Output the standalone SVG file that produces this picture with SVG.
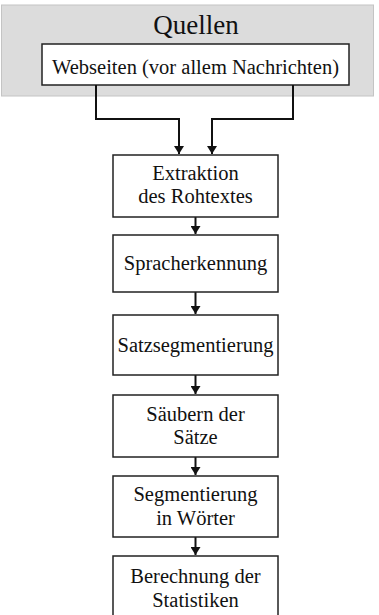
<svg xmlns="http://www.w3.org/2000/svg" width="379" height="615" viewBox="0 0 379 615">
<defs>
<marker id="arr" viewBox="0 0 8 10" refX="8" refY="5" markerWidth="8" markerHeight="10" markerUnits="userSpaceOnUse" orient="auto">
<path d="M0,0 L8,5 L0,10 Z" fill="#111"/>
</marker>
<style>
.box{fill:#fff;stroke:#222;stroke-width:1.5}
.t{font-family:"Liberation Serif","Times New Roman",serif;font-size:20.5px;fill:#111;text-anchor:middle}
.c{fill:none;stroke:#111;stroke-width:2}
</style>
</defs>
<g id="quellen">
<rect x="1.5" y="5" width="372" height="91" fill="#dcdcdc" stroke="#c4c4c4" stroke-width="1"/>
<text x="196" y="34" class="t" style="font-size:27px">Quellen</text>
</g>
<g id="webseiten">
<rect class="box" x="42" y="44" width="307" height="41"/>
<text x="195.5" y="74" class="t">Webseiten (vor allem Nachrichten)</text>
</g>
<g id="connectors">
<path class="c" d="M96,85 V119 H179 V154" marker-end="url(#arr)"/>
<path class="c" d="M293,85 V119 H212 V154" marker-end="url(#arr)"/>
<path class="c" d="M195.5,217 V234" marker-end="url(#arr)"/>
<path class="c" d="M195.5,292 V314" marker-end="url(#arr)"/>
<path class="c" d="M195.5,375 V394" marker-end="url(#arr)"/>
<path class="c" d="M195.5,457 V475" marker-end="url(#arr)"/>
<path class="c" d="M195.5,537 V555" marker-end="url(#arr)"/>
</g>
<g id="extraktion">
<rect class="box" x="113" y="155" width="165" height="62"/>
<text x="195.5" y="180" class="t">Extraktion</text>
<text x="195.5" y="203" class="t">des Rohtextes</text>
</g>
<g id="spracherkennung">
<rect class="box" x="113" y="235" width="165" height="57"/>
<text x="195.5" y="270" class="t">Spracherkennung</text>
</g>
<g id="satzsegmentierung">
<rect class="box" x="113" y="315" width="165" height="60"/>
<text x="195.5" y="352" class="t">Satzsegmentierung</text>
</g>
<g id="saeubern">
<rect class="box" x="113" y="395" width="165" height="62"/>
<text x="195.5" y="421" class="t">Säubern der</text>
<text x="195.5" y="444" class="t">Sätze</text>
</g>
<g id="segmentierung">
<rect class="box" x="113" y="476" width="165" height="61"/>
<text x="195.5" y="501" class="t">Segmentierung</text>
<text x="195.5" y="525" class="t">in Wörter</text>
</g>
<g id="berechnung">
<rect class="box" x="113" y="556" width="165" height="64"/>
<text x="195.5" y="583" class="t">Berechnung der</text>
<text x="195.5" y="607" class="t">Statistiken</text>
</g>
</svg>
